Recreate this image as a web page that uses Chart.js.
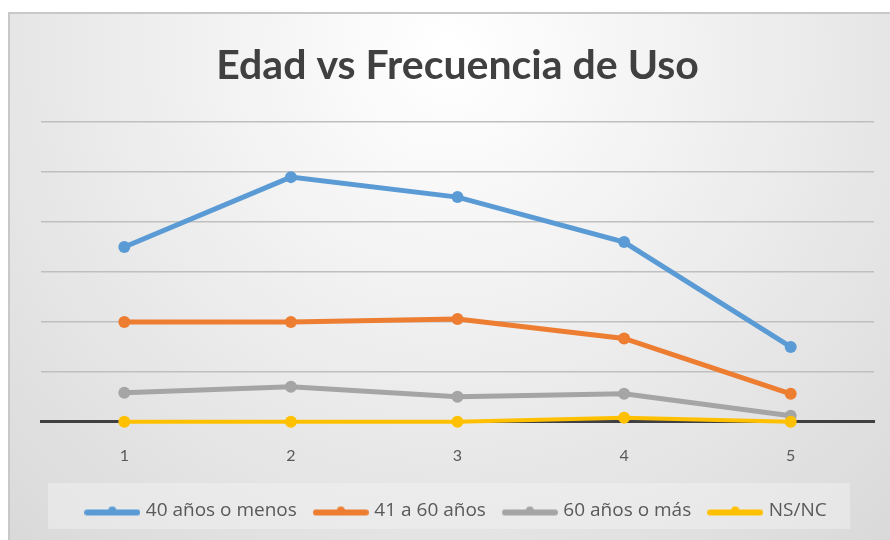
<!DOCTYPE html>
<html>
<head>
<meta charset="utf-8">
<script src="https://cdn.jsdelivr.net/npm/chart.js@4.4.1/dist/chart.umd.min.js"></script>
<style>
  body { margin: 0; background: #ffffff; }
  #wrap { position: absolute; left: 8px; top: 12px; width: 882px; height: 528px;
          border-left: 2px solid #c8c8c8; border-top: 2px solid #c8c8c8; box-sizing: border-box; }
</style>
</head>
<body>
<div id="wrap"><canvas id="grafico"></canvas></div>
<script>
// Datos
const categorias = ['1', '2', '3', '4', '5'];
const serieMenos40 = [35, 49, 45, 36, 15];
const serie41a60 = [20, 20, 20.6, 16.7, 5.6];
const serieMas60 = [5.8, 7, 5, 5.6, 1.2];
const serieNSNC = [0, 0, 0, 0.8, 0];
const nombresSeries = ['40 años o menos', '41 a 60 años', '60 años o más', 'NS/NC'];
const coloresSeries = ['#5b9bd5', '#ed7d31', '#a5a5a5', '#ffc000'];

// Icono de leyenda: línea gruesa con un punto en el centro
function iconoLeyenda(color) {
    const c = document.createElement('canvas');
    c.width = 56; c.height = 14;
    const ctx = c.getContext('2d');
    ctx.strokeStyle = color;
    ctx.lineWidth = 6;
    ctx.lineCap = 'round';
    ctx.beginPath();
    ctx.moveTo(3, 9); ctx.lineTo(53, 9);
    ctx.stroke();
    ctx.fillStyle = color;
    ctx.beginPath();
    ctx.arc(28, 7, 4, 0, Math.PI * 2);
    ctx.fill();
    return c;
}

// Fondo con degradado radial y caja de la leyenda
const fondoPlugin = {
    id: 'fondo',
    beforeDraw(chart) {
        const ctx = chart.ctx;
        const w = chart.width, h = chart.height;
        ctx.save();
        const g = ctx.createRadialGradient(w * 0.5, 40, 10, w * 0.5, 40, w * 0.75);
        g.addColorStop(0, '#ffffff');
        g.addColorStop(1, '#d9d9d9');
        ctx.fillStyle = g;
        ctx.fillRect(0, 0, w, h);
        const lg = chart.legend;
        ctx.fillStyle = 'rgba(242,242,242,0.5)';
        ctx.fillRect(38, lg.top + 2, 802, 46);
        ctx.restore();
    }
};

const series = [serieMenos40, serie41a60, serieMas60, serieNSNC];

new Chart(document.getElementById('grafico'), {
    type: 'line',
    data: {
        labels: categorias,
        datasets: series.map((valores, i) => ({
            label: nombresSeries[i],
            data: valores,
            borderColor: coloresSeries[i],
            backgroundColor: coloresSeries[i],
            borderWidth: i === 3 ? 4 : 5,
            pointStyle: 'circle',
            pointRadius: 6,
            pointHoverRadius: 6,
            pointBackgroundColor: coloresSeries[i],
            pointBorderWidth: 0,
            tension: 0,
            clip: false,
            order: 3 - i
        }))
    },
    options: {
        responsive: true,
        maintainAspectRatio: false,
        animation: false,
        layout: { padding: { left: 31, right: 16, top: 0, bottom: 10 } },
        plugins: {
            title: {
                display: true,
                text: 'Edad vs Frecuencia de Uso',
                color: '#404040',
                font: { family: 'Lato', size: 41, weight: 'bold' },
                padding: { top: 27, bottom: 32 }
            },
            legend: {
                position: 'bottom',
                labels: {
                    usePointStyle: true,
                    pointStyleWidth: 48,
                    color: '#595959',
                    font: { family: 'Open Sans', size: 19 },
                    padding: 20,
                    boxHeight: 14,
                    generateLabels(chart) {
                        return chart.data.datasets.map((ds, i) => ({
                            text: ds.label,
                            fillStyle: ds.borderColor,
                            strokeStyle: ds.borderColor,
                            lineWidth: 0,
                            pointStyle: iconoLeyenda(ds.borderColor),
                            datasetIndex: i,
                            fontColor: '#595959'
                        }));
                    }
                }
            },
            tooltip: { enabled: false }
        },
        scales: {
            x: {
                offset: true,
                grid: { display: false },
                border: { color: '#404040', width: 3 },
                ticks: { color: '#595959', font: { family: 'Lato', size: 16 }, padding: 16 }
            },
            y: {
                min: 0,
                max: 60,
                ticks: { stepSize: 10, display: false },
                border: { display: false },
                grid: {
                    color: (c) => c.tick.value === 0 ? 'rgba(0,0,0,0)' : '#bfbfbf',
                    lineWidth: 1.5,
                    drawTicks: false
                }
            }
        }
    },
    plugins: [fondoPlugin]
});
</script>
</body>
</html>
